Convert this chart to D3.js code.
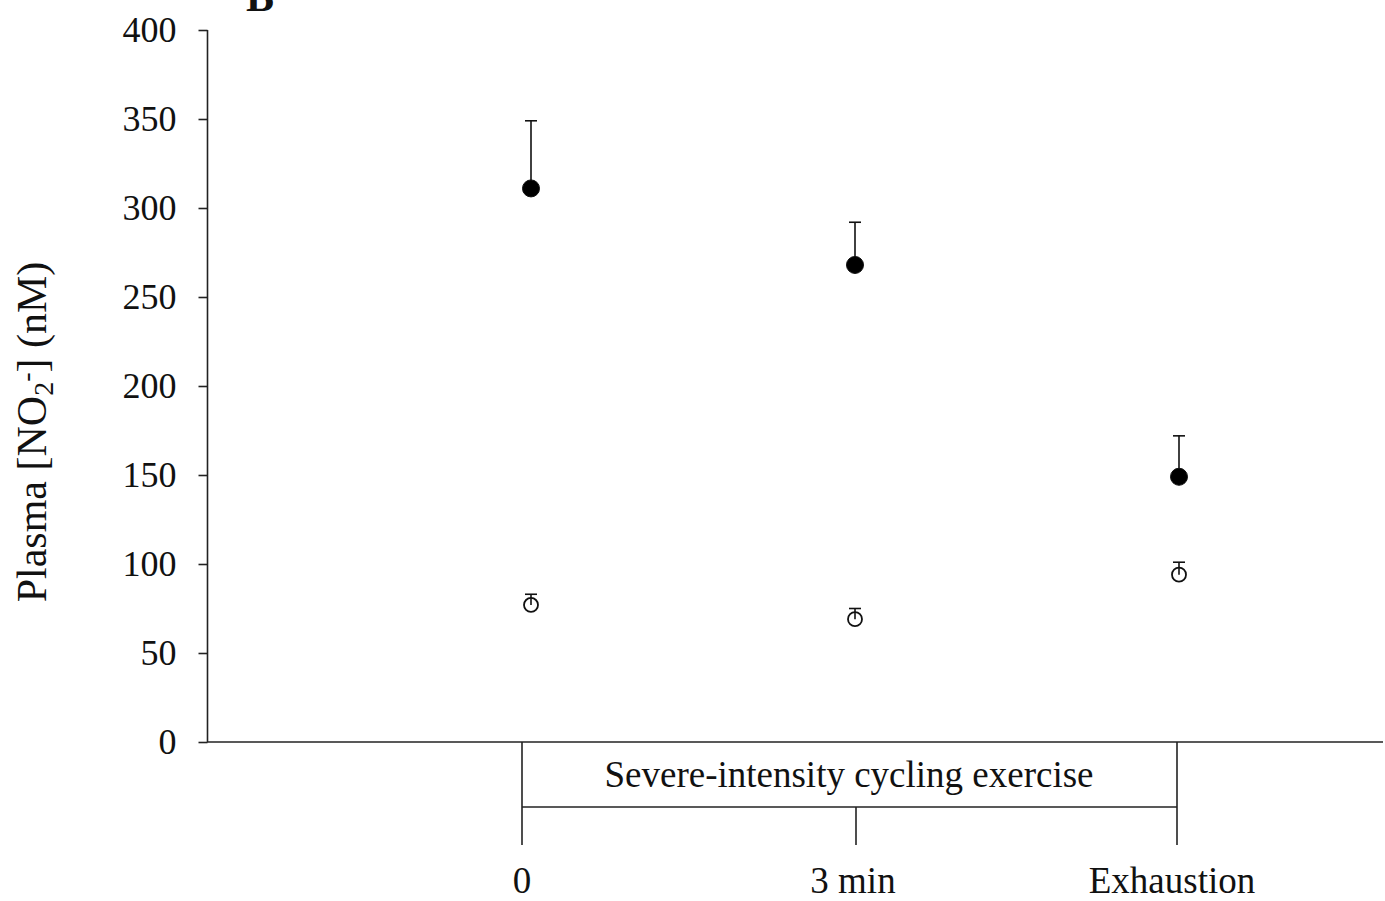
<!DOCTYPE html>
<html><head><meta charset="utf-8">
<script src="https://cdn.jsdelivr.net/npm/d3@7"></script>
<style>body{margin:0;background:#fff}svg{display:block}text{font-family:"Liberation Serif","Times New Roman",serif;fill:#111}</style>
</head><body>
<svg id="c" width="1385" height="901"></svg>
<script>
const categories = ["0", "3 min", "Exhaustion"];
const filledMean = [311, 268, 149];
const filledSE = [38, 24, 23];
const openMean = [77, 69, 94];
const openSE = [6, 6, 7];
const yTicks = [0, 50, 100, 150, 200, 250, 300, 350, 400];
const bracketLabel = "Severe-intensity cycling exercise";

const svg = d3.select("#c");
const y = d3.scaleLinear().domain([0, 400]).range([742, 30]);
const xPts = d3.scalePoint().domain(categories).range([531, 1179]);
const xEnds = d3.scalePoint().domain(categories).range([522, 1177]);
const bracketX = c => (c === categories[1]) ? xPts(c) + 1 : xEnds(c);
const labelX = c => (c === categories[1]) ? xPts(c) - 2 : (c === categories[2] ? xEnds(c) - 5 : xEnds(c));

// axes
const yAxis = d3.axisLeft(y).tickValues(yTicks).tickSize(9).tickSizeOuter(0).tickPadding(22);
const gy = svg.append("g").attr("transform", "translate(207.5,0)").call(yAxis);
gy.selectAll("path,line").attr("stroke", "#222").attr("stroke-width", 1.6);
gy.selectAll("text").style("font-size", "36px").style("font-family", "Liberation Serif").attr("fill", "#111");
gy.select(".domain").attr("d", `M0,${y(400)}V${y(0)}`);

svg.append("line").attr("x1", 207).attr("x2", 1383).attr("y1", 742).attr("y2", 742)
  .attr("stroke", "#222").attr("stroke-width", 1.6);

// bracket
const bx0 = xEnds(categories[0]), bx1 = xEnds(categories[2]);
svg.append("line").attr("x1", bx0).attr("x2", bx1).attr("y1", 807).attr("y2", 807).attr("stroke", "#222").attr("stroke-width", 1.6);
categories.forEach(c => {
  const xv = bracketX(c);
  const top = (c === categories[1]) ? 807 : 742;
  svg.append("line").attr("x1", xv).attr("x2", xv).attr("y1", top).attr("y2", 845).attr("stroke", "#222").attr("stroke-width", 1.6);
  svg.append("text").attr("x", labelX(c)).attr("y", 893).attr("text-anchor", "middle").style("font-size", "37px").text(c);
});
svg.append("text").attr("x", 849).attr("y", 787).attr("text-anchor", "middle").style("font-size", "37px").text(bracketLabel);

// y label
const yl = svg.append("text").attr("transform", "translate(46,432) rotate(-90)").attr("text-anchor", "middle").style("font-size", "42px");
yl.append("tspan").text("Plasma [NO");
yl.append("tspan").attr("baseline-shift", "-25%").style("font-size", "28px").text("2");
yl.append("tspan").attr("baseline-shift", "40%").style("font-size", "28px").text("-");
yl.append("tspan").text("] (nM)");

// panel letter
svg.append("text").attr("x", 246).attr("y", 11).style("font-size", "42px").style("font-weight", "bold").text("B");

// error bars and points
function series(means, ses, filled, r) {
  means.forEach((m, i) => {
    const xv = xPts(categories[i]);
    svg.append("line").attr("x1", xv).attr("x2", xv).attr("y1", y(m)).attr("y2", y(m + ses[i])).attr("stroke", "#111").attr("stroke-width", 1.6);
    svg.append("line").attr("x1", xv - 6).attr("x2", xv + 6).attr("y1", y(m + ses[i])).attr("y2", y(m + ses[i])).attr("stroke", "#111").attr("stroke-width", 1.6);
  });
  svg.selectAll(null).data(means).enter().append("circle")
    .attr("cx", (d, i) => xPts(categories[i])).attr("cy", d => y(d)).attr("r", r)
    .attr("fill", filled ? "#000" : "none").attr("stroke", "#111").attr("stroke-width", filled ? 1 : 1.8);
}
series(openMean, openSE, false, 7);
series(filledMean, filledSE, true, 8.5);
</script>
</body></html>
